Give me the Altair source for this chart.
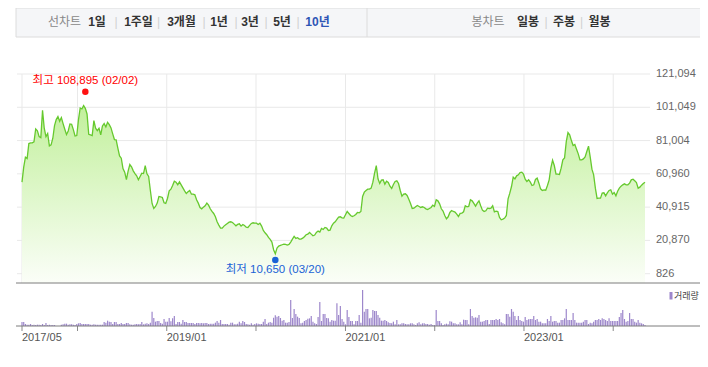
import altair as alt
import pandas as pd

# ---------------- data ----------------
START = "2017-05-19"  # first weekly close
price = [
    55950, 64970, 70980, 70180, 79200, 79600, 79600, 80200, 88020, 86820,
    83410, 82810, 99250, 88420, 83410, 85210, 77800, 78400, 82410, 90030,
    93630, 95440, 92630, 94840, 91230, 87820, 84610, 86820, 91030, 90830,
    87620, 83810, 84010, 93630, 100650, 100050, 102050, 100450, 97040, 84810,
    84410, 84010, 93030, 88420, 87020, 88420, 84410, 89820, 91230, 89220,
    92030, 90630, 88620, 85010, 81610, 81410, 76390, 71780, 70380, 64170,
    61960, 57550, 62560, 66570, 65170, 62760, 61160, 59760, 57350, 59360,
    61360, 61160, 65970, 60960, 59360, 50940, 43120, 40110, 41320, 43320,
    47330, 47130, 46730, 43520, 43120, 46130, 50740, 51740, 53940, 56550,
    55950, 54350, 56150, 54350, 52540, 50740, 49130, 50140, 50940, 48730,
    48730, 48330, 45320, 43320, 40710, 39910, 40910, 41720, 43320, 42120,
    39910, 38310, 37110, 35100, 32090, 30090, 28290, 28290, 29490, 30290,
    31090, 31890, 32090, 31690, 30690, 29690,
    30490, 30890, 29490, 30490,
    29890, 28890, 28690, 29890, 31090, 31490, 31290, 31290, 30490, 31290,
    29490, 26880, 25480, 24280, 22670, 21470, 19870, 15260, 12850, 16260,
    17460, 17860, 18260, 18660, 18460, 18060, 18460, 19870, 21670, 23280,
    22070, 22470, 21670, 21670, 22270, 23070, 24280, 24680, 25680, 24680,
    23680, 24080, 25680, 26480, 25880, 28090, 27480, 28690, 28290, 26880,
    27080, 29690, 31290, 32090, 33500, 34900, 35100, 34500, 34300, 36300,
    38310, 37110, 35900, 35300, 35700, 36500, 37710, 37510, 38310, 47330,
    49940, 50940, 51740, 51740, 52340, 55950, 61360, 65970, 57950, 55150,
    57150, 57350, 54750, 56550, 55750, 53540, 52140, 54550, 56350, 56750,
    55150, 50940, 47530, 48730, 48930, 47930, 45730, 43120, 40110, 40310,
    41120, 41920, 41320, 40710, 41120, 40710, 39910, 39510, 40110, 40710,
    42120, 41320, 45320, 44720, 42920, 39910,
    38510, 35900, 33900, 35100,
    37710, 38910, 38310, 37910, 36710, 35300, 37110, 37310, 38110, 41720,
    41120, 41320, 45320, 44720, 43120, 41520, 43320, 44720, 41720, 39110,
    38310, 38710, 40310, 40110, 40310, 41720, 38110, 38510, 38310, 34700,
    33300, 33700, 34300, 35900, 45930, 49330, 53340, 58950, 57950, 59760,
    60360, 61760, 61960, 60760, 57750, 56350, 57350, 55950, 53940, 54350,
    57550, 58350, 55350, 51940, 50940, 51340, 51140, 53940, 57350, 64570,
    69180, 65970, 60760, 60760, 60560, 64370, 69380, 70580, 80400, 85820,
    84410, 81000, 78000, 78600, 75790, 72990, 69380, 69380, 69980, 71180,
    74390, 77600, 70980, 63770, 60360, 52340, 46130, 46330, 46330, 49330,
    49530, 47730, 49530, 50940, 51340, 48730, 49730, 47730, 50540, 52340,
    53540, 54350, 54950, 54350, 54350, 55350, 57350, 57750, 56750, 55750,
    52340, 52940, 54140, 55150, 55950,
]
volume = [
    120, 120, 60, 40, 40, 60, 30, 40, 30, 40,
    40, 30, 60, 30, 90, 30, 40, 30, 30, 30,
    0, 0, 0, 40, 50, 70, 70, 40, 50, 50,
    40, 30, 60, 80, 90, 60, 60, 60, 60, 60,
    40, 40, 50, 40, 40, 40, 40, 40, 120, 100,
    160, 130, 120, 60, 120, 120, 60, 60, 90, 60,
    60, 90, 90, 50, 40, 40, 50, 60, 50, 60,
    120, 50, 70, 80, 60, 100, 430, 240, 130, 150,
    150, 90, 70, 210, 130, 130, 240, 140, 230, 300,
    60, 120, 120, 70, 180, 120, 120, 90, 90, 90,
    90, 60, 90, 90, 80, 90, 80, 90, 90, 60,
    70, 70, 70, 100, 150, 100, 180, 60, 60, 60,
    60, 40, 100, 100, 50, 50, 70, 130, 80, 150,
    120, 60, 50, 40, 80, 40, 60, 80, 70, 60,
    60, 130, 210, 60, 100, 120, 100, 250, 320, 280,
    300, 240, 160, 180, 100, 100, 120, 780, 240, 510,
    360, 280, 240, 80, 100, 150, 180, 220, 230, 300,
    130, 80, 60, 270, 720, 150, 360, 360, 240, 230,
    130, 180, 160,
    160, 680, 330, 600, 210, 130, 50,
    480, 270, 150, 150, 50, 150, 150, 330, 100, 1080,
    430, 510, 510, 230, 250, 480, 450, 450, 330, 250,
    160, 160, 180, 150, 110, 90, 80, 130, 50, 180,
    50, 50, 80, 80, 60, 50, 50, 80, 80, 50,
    30, 80, 110, 50, 80, 80, 60, 60, 40, 60,
    30, 30, 480, 150, 150, 80, 30, 50, 70, 50,
    140, 130, 80, 80, 50, 50, 110, 50, 190, 180,
    180, 50, 510, 300, 250, 260, 250, 330, 130, 130,
    150, 180, 180, 60, 180, 180, 180, 210, 180, 210,
    110, 80, 50, 360, 360, 280, 510, 430, 300, 180,
    300, 180, 150, 130, 270, 180, 200, 210, 210, 300,
    180, 210, 130, 130, 80, 80, 80, 210, 150, 300,
    130, 150, 150, 100, 100, 180, 180, 230, 510, 180,
    180, 180, 390, 180, 100, 100, 100, 100, 130, 180,
    180, 60, 100, 80, 130, 180, 180, 210, 180, 230,
    210, 180, 150, 230, 150, 150, 150, 150, 150, 270,
    390, 480, 210, 130, 150, 390, 210, 210, 130, 100,
    180, 100, 80, 60, 30,
]
y_ticks = [826, 20870, 40915, 60960, 81004, 101049, 121094]
y_min = -4774
vol_max = 1230
tick_dates = ["2017-05-19", "2018-01-01", "2019-01-01", "2020-01-01",
              "2021-01-01", "2022-01-01", "2023-01-01", "2024-01-01"]
label_dates = ["2017-05-19", "2019-01-01", "2021-01-01", "2023-01-01"]
ext_dates = ["2018-02-02", "2020-03-20"]
ext_values = [108895, 10650]
ext_labels = ["최고 108,895 (02/02)", "최저 10,650 (03/20)"]

hdr_labels = ["선차트", "1일", "|", "1주일", "|", "3개월", "|", "1년", "|", "3년", "|",
              "5년", "|", "10년", "봉차트", "일봉", "|", "주봉", "|", "월봉"]
hdr_kind = ["muted", "item", "sep", "item", "sep", "item", "sep", "item", "sep", "item", "sep",
            "item", "sep", "active", "muted", "item", "sep", "item", "sep", "item"]
hdr_page_x = [64.5, 97, 116, 138.5, 158.5, 181.5, 204, 219, 236, 250, 266,
              282, 298, 317.5, 488, 528, 546, 564, 581.5, 599.5]

# ---------------- layout ----------------
PL, PT = 17, 74          # page position of plot origin
W, H = 633, 252          # plot area (price + volume)
MAIN_H = 209             # price panel height
VOL_TOP = 211
FONT_NUM = "Liberation Sans"
FONT_KR = "Noto Sans CJK KR"
FONT_MIX = "Liberation Sans, Noto Sans CJK KR"

dates = pd.date_range(START, periods=len(price), freq="7D")
df = pd.DataFrame({"date": dates, "price": price, "vol": volume})

x_dom = [alt.DateTime(year=2017, month=5, date=19), alt.DateTime(year=2024, month=5, date=10)]
xscale = alt.Scale(domain=x_dom)
yscale = alt.Scale(domain=[y_min, 121094], range=[MAIN_H, 0], zero=False, nice=False)
vscale = alt.Scale(domain=[0, vol_max], range=[H, VOL_TOP], nice=False)

def X(field="date"):
    return alt.X(field + ":T", scale=xscale, axis=None)

def Yp(field="price"):
    return alt.Y(field + ":Q", scale=yscale, axis=None)

base = alt.Chart(df)

# horizontal grid + right-hand labels
yt = pd.DataFrame({"v": y_ticks})
hgrid = alt.Chart(yt).mark_rule(color="#e9e9e9", strokeWidth=1).encode(
    y=Yp("v"), x=alt.value(0), x2=alt.value(W))
ylab = alt.Chart(yt).mark_text(align="left", baseline="middle", font=FONT_NUM, fontSize=11,
                               color="#666666").encode(
    y=Yp("v"), x=alt.value(W + 6), text=alt.Text("v:Q", format=",d"))

# vertical grid lines (price panel only)
vg = pd.DataFrame({"date": pd.to_datetime(tick_dates)})
vgrid = alt.Chart(vg).mark_rule(color="#e9e9e9", strokeWidth=1).encode(
    x=X(), y=alt.value(0), y2=alt.value(MAIN_H))
xticks = alt.Chart(vg).mark_rule(color="#8a8a8a", strokeWidth=1).encode(
    x=X(), y=alt.value(H), y2=alt.value(H + 5))
xl = pd.DataFrame({"date": pd.to_datetime(label_dates)})
xlab = alt.Chart(xl).mark_text(align="left", baseline="middle", font=FONT_NUM, fontSize=11,
                               color="#555555", dx=0).encode(
    x=X(), y=alt.value(H + 12), text=alt.Text("date:T", format="%Y/%m"))

area = base.mark_area(
    color=alt.Gradient(gradient="linear",
                       stops=[alt.GradientStop(color="#c2f09c", offset=0),
                              alt.GradientStop(color="#fbfef8", offset=1)],
                       x1=0, x2=0, y1=0, y2=1)
).encode(x=X(), y=Yp(), y2=alt.datum(y_min))
line = base.mark_line(color="#66c92e", strokeWidth=1.3).encode(x=X(), y=Yp())

ext = pd.DataFrame({"date": pd.to_datetime(ext_dates), "price": ext_values, "label": ext_labels})
hi = alt.Chart(ext.iloc[[0]])
lo = alt.Chart(ext.iloc[[1]])
hi_dot = hi.mark_circle(size=42, opacity=1, color="#ff1010", yOffset=-2.5).encode(x=X(), y=Yp())
lo_dot = lo.mark_circle(size=42, opacity=1, color="#1a62d6", yOffset=2.5).encode(x=X(), y=Yp())
hi_txt = hi.mark_text(color="#ff0000", fontSize=11.5, font=FONT_MIX, dy=-13).encode(
    x=X(), y=Yp(), text="label:N")
lo_txt = lo.mark_text(color="#1a62d6", fontSize=11.5, font=FONT_MIX, dy=13).encode(
    x=X(), y=Yp(), text="label:N")

price_layer = alt.layer(hgrid, vgrid, area, line, hi_dot, lo_dot, hi_txt, lo_txt, ylab)

bars = base.mark_bar(size=1.2, color="#9d87cb").encode(
    x=X(), y=alt.Y("vol:Q", scale=vscale, axis=None))

one = pd.DataFrame({"a": [0]})
def c():
    return alt.Chart(one)

deco = [xticks, xlab]
# horizontal axis lines (extend to the right edge)
for yy in [MAIN_H, H]:
    deco.append(c().mark_rule(color="#7d7d7d", strokeWidth=1).encode(
        x=alt.value(-1), x2=alt.value(710 - PL), y=alt.value(yy)))
# header tab bar
deco.append(c().mark_rect(fill="#f5f6f8", stroke="#dcdcdc", strokeWidth=1).encode(
    x=alt.value(16 - PL), x2=alt.value(720 - PL), y=alt.value(8 - PT), y2=alt.value(37 - PT)))
deco.append(c().mark_rule(color="#dcdcdc").encode(
    x=alt.value(367 - PL), y=alt.value(8 - PT), y2=alt.value(37 - PT)))
styles = {
    "muted": dict(color="#888888", fontWeight="normal"),
    "item": dict(color="#333333", fontWeight="bold"),
    "sep": dict(color="#d0d0d0", fontWeight="normal"),
    "active": dict(color="#2d55b5", fontWeight="bold"),
}
for lab, kind, px in zip(hdr_labels, hdr_kind, hdr_page_x):
    st = styles[kind]
    deco.append(c().mark_text(text=lab, font=FONT_MIX, fontSize=12, align="center",
                              baseline="middle", **st).encode(
        x=alt.value(px - PL), y=alt.value(21.5 - PT)))
# volume legend
deco.append(c().mark_rect(color="#9d87cb").encode(
    x=alt.value(669.5 - PL), x2=alt.value(672.5 - PL), y=alt.value(292 - PT), y2=alt.value(299.5 - PT)))
deco.append(c().mark_text(text="거래량", font=FONT_KR, fontSize=9, color="#444444",
                          align="left", baseline="middle").encode(
    x=alt.value(674 - PL), y=alt.value(296 - PT)))

chart = alt.layer(price_layer, bars, *deco).resolve_scale(y="independent").properties(
    width=W, height=H,
    autosize=alt.AutoSizeParams(type="none"),
    padding={"left": PL - 8, "top": PT - 8, "right": 692 - (PL - 8) - W, "bottom": 351 - (PT - 8) - H},
    background="white",
).configure_view(stroke=None)

chart.save("out.html", embed_options={"renderer": "svg", "actions": False})
